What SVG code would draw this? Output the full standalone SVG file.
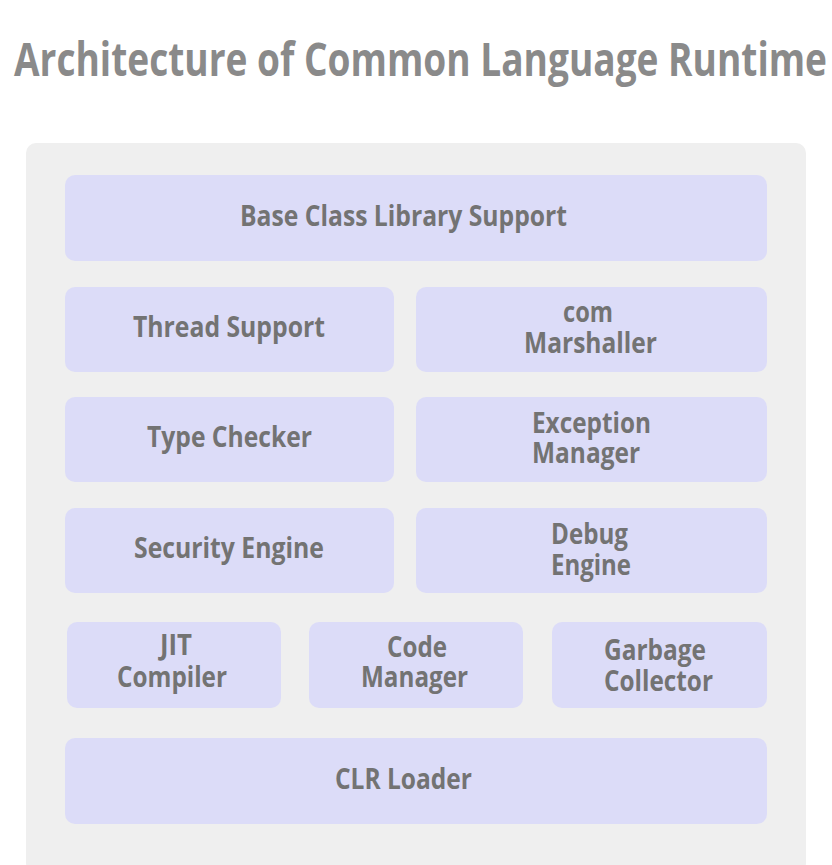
<svg xmlns="http://www.w3.org/2000/svg" width="832" height="865" viewBox="0 0 832 865">
  <style>
    .box { fill: #dcdcf8; }
    .t { font-family: "Open Sans", "Noto Sans", "Liberation Sans", sans-serif; font-weight: 700; font-size: 29px; fill: #737373; }
    .title { font-family: "Open Sans", "Noto Sans", "Liberation Sans", sans-serif; font-weight: 700; font-size: 46px; fill: #8a8a8a; }
  </style>
  <rect width="832" height="865" fill="#ffffff"/>
  <text id="title" class="title" x="14" y="76" textLength="813" lengthAdjust="spacingAndGlyphs">Architecture of Common Language Runtime</text>
  <g id="container">
    <rect x="26" y="143" width="780" height="730" rx="10" fill="#efefef"/>
  </g>
  <g id="base-class-library">
    <rect class="box" x="65" y="175" width="702" height="86" rx="10"/>
    <text class="t" x="240" y="226" textLength="327" lengthAdjust="spacingAndGlyphs">Base Class Library Support</text>
  </g>
  <g id="thread-support">
    <rect class="box" x="65" y="287" width="329" height="85" rx="10"/>
    <text class="t" x="133" y="337" textLength="192" lengthAdjust="spacingAndGlyphs">Thread Support</text>
  </g>
  <g id="com-marshaller">
    <rect class="box" x="416" y="287" width="351" height="85" rx="10"/>
    <text class="t" x="563" y="322" textLength="50" lengthAdjust="spacingAndGlyphs">com</text>
    <text class="t" x="524" y="353" textLength="133" lengthAdjust="spacingAndGlyphs">Marshaller</text>
  </g>
  <g id="type-checker">
    <rect class="box" x="65" y="397" width="329" height="85" rx="10"/>
    <text class="t" x="147" y="447" textLength="165" lengthAdjust="spacingAndGlyphs">Type Checker</text>
  </g>
  <g id="exception-manager">
    <rect class="box" x="416" y="397" width="351" height="85" rx="10"/>
    <text class="t" x="532" y="433" textLength="119" lengthAdjust="spacingAndGlyphs">Exception</text>
    <text class="t" x="532" y="463" textLength="108" lengthAdjust="spacingAndGlyphs">Manager</text>
  </g>
  <g id="security-engine">
    <rect class="box" x="65" y="508" width="329" height="85" rx="10"/>
    <text class="t" x="134" y="558" textLength="190" lengthAdjust="spacingAndGlyphs">Security Engine</text>
  </g>
  <g id="debug-engine">
    <rect class="box" x="416" y="508" width="351" height="85" rx="10"/>
    <text class="t" x="551" y="544" textLength="77" lengthAdjust="spacingAndGlyphs">Debug</text>
    <text class="t" x="551" y="575" textLength="80" lengthAdjust="spacingAndGlyphs">Engine</text>
  </g>
  <g id="jit-compiler">
    <rect class="box" x="67" y="622" width="214" height="86" rx="10"/>
    <text class="t" x="160" y="655" textLength="32" lengthAdjust="spacingAndGlyphs">JIT</text>
    <text class="t" x="117" y="687" textLength="110" lengthAdjust="spacingAndGlyphs">Compiler</text>
  </g>
  <g id="code-manager">
    <rect class="box" x="309" y="622" width="214" height="86" rx="10"/>
    <text class="t" x="387" y="657" textLength="60" lengthAdjust="spacingAndGlyphs">Code</text>
    <text class="t" x="361" y="687" textLength="107" lengthAdjust="spacingAndGlyphs">Manager</text>
  </g>
  <g id="garbage-collector">
    <rect class="box" x="552" y="622" width="215" height="86" rx="10"/>
    <text class="t" x="604" y="660" textLength="102" lengthAdjust="spacingAndGlyphs">Garbage</text>
    <text class="t" x="604" y="691" textLength="109" lengthAdjust="spacingAndGlyphs">Collector</text>
  </g>
  <g id="clr-loader">
    <rect class="box" x="65" y="738" width="702" height="86" rx="10"/>
    <text class="t" x="335" y="789" textLength="137" lengthAdjust="spacingAndGlyphs">CLR Loader</text>
  </g>
  <g id="connectors"/>
</svg>
